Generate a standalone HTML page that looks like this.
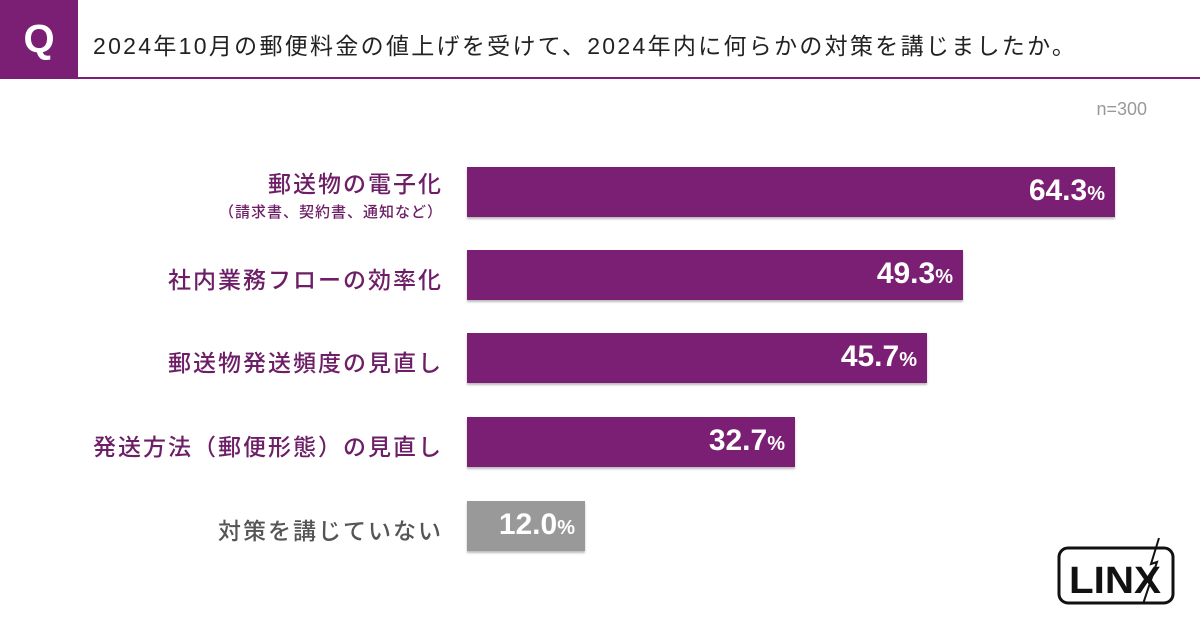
<!DOCTYPE html>
<html><head><meta charset="utf-8"><style>
body{margin:0;width:1200px;height:630px;background:#fff;position:relative;overflow:hidden;font-family:"Liberation Sans","Noto Sans CJK JP",sans-serif}
.q{position:absolute;left:0;top:0;width:78px;height:78px;background:#7b1f74;color:#fff;font-size:40px;font-weight:bold;display:flex;align-items:center;justify-content:center}
.hl{position:absolute;left:0;top:77px;width:1200px;height:2px;background:#7b1f74}
.title{position:absolute;left:93px;top:27px;font-size:23px;letter-spacing:2.3px;color:#222;white-space:nowrap}
.n{position:absolute;right:53px;top:99px;font-size:18px;color:#999}
.lab{position:absolute;right:757px;text-align:right;font-size:23px;letter-spacing:2px;color:#6d1e66;white-space:nowrap;font-weight:500}
.sub{font-size:15px;letter-spacing:1px;display:block;margin-top:2px}
.bar{position:absolute;left:467px;height:50px;background:#7b1f74;box-shadow:0 2px 2px #bbb}
.v{position:absolute;right:10px;top:7px;color:#fff;font-weight:bold;font-size:30px}
.v small{font-size:20px}
</style></head><body>
<div class="q">Q</div><div class="hl"></div>
<div class="title">2024年10月の郵便料金の値上げを受けて、2024年内に何らかの対策を講じましたか。</div>
<div class="n">n=300</div>
<div class="lab" style="top:165px">郵送物の電子化<span class="sub">（請求書、契約書、通知など）</span></div>
<div class="bar" style="top:167px;width:648px"><span class="v">64.3<small>%</small></span></div>
<div class="lab" style="top:261px">社内業務フローの効率化</div>
<div class="bar" style="top:250px;width:496px"><span class="v">49.3<small>%</small></span></div>
<div class="lab" style="top:344px">郵送物発送頻度の見直し</div>
<div class="bar" style="top:333px;width:460px"><span class="v">45.7<small>%</small></span></div>
<div class="lab" style="top:428px">発送方法（郵便形態）の見直し</div>
<div class="bar" style="top:417px;width:328px"><span class="v">32.7<small>%</small></span></div>
<div class="lab" style="top:512px;color:#555">対策を講じていない</div>
<div class="bar" style="top:501px;width:118px;background:#999"><span class="v">12.0<small>%</small></span></div>
<svg style="position:absolute;left:1055px;top:538px" width="125" height="70">
<rect x="4" y="10" width="114" height="55" rx="9" fill="#fff" stroke="#111" stroke-width="3"/>
<text x="14" y="55" font-family="Liberation Sans Narrow,Liberation Sans,sans-serif" font-weight="bold" font-size="38" fill="#111" textLength="92" lengthAdjust="spacingAndGlyphs">LINX</text>
<path d="M104 0 L96 26 L102 24 L88 66" stroke="#111" stroke-width="2" fill="none"/>
</svg>
</body></html>
